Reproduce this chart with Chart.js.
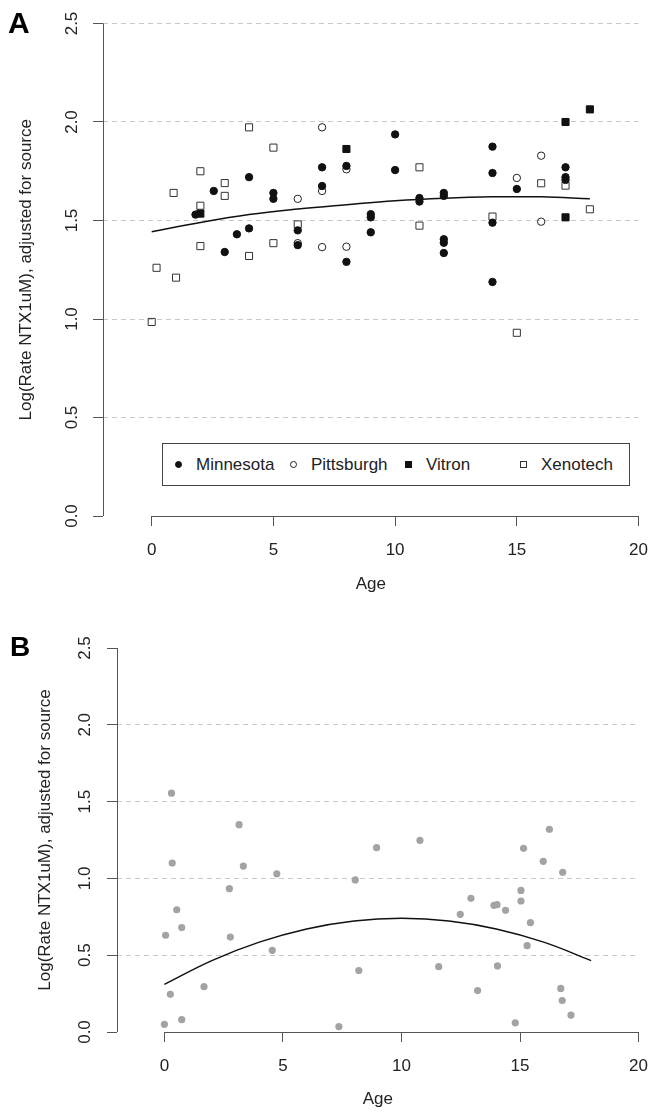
<!DOCTYPE html>
<html>
<head>
<meta charset="utf-8">
<script src="https://cdn.jsdelivr.net/npm/chart.js@4.4.1/dist/chart.umd.min.js"></script>
<style>
body{margin:0;background:#fff;font-family:"Liberation Sans",Arial,sans-serif;}
#page{position:relative;width:662px;height:1118px;overflow:hidden;}
.panel{position:absolute;left:0;width:662px;}
.tag{position:absolute;font-weight:bold;line-height:1;color:#000;}
#legendA{position:absolute;left:162px;top:443px;width:468px;height:43px;border:1px solid #444;box-sizing:border-box;background:#fff;}
.item{position:absolute;top:0;height:41px;line-height:41px;font-size:17px;color:#222;white-space:nowrap;}
.mark{position:absolute;top:17px;width:7px;height:7px;box-sizing:border-box;}
</style>
</head>
<body>
<div id="page">
  <div class="panel" style="top:0;height:610px;"><canvas id="chartA"></canvas></div>
  <div class="panel" style="top:610px;height:508px;"><canvas id="chartB"></canvas></div>
  <div class="tag" style="left:8px;top:8px;font-size:30px;">A</div>
  <div class="tag" style="left:10px;top:633px;font-size:28px;">B</div>
  <div id="legendA"></div>
</div>
<script>
// panel A, by source
var minnesotaAge  = [1.8, 2.55, 3, 3.5, 4, 4, 5, 5, 6, 6, 7, 7, 8, 8, 9, 9, 9, 10, 10, 11, 11, 12, 12, 12, 12, 12, 14, 14, 14, 14, 15, 17, 17, 17];
var minnesotaRate = [1.53, 1.65, 1.34, 1.43, 1.72, 1.46, 1.64, 1.61, 1.45, 1.375, 1.77, 1.675, 1.777, 1.29, 1.532, 1.516, 1.44, 1.937, 1.756, 1.614, 1.596, 1.64, 1.625, 1.405, 1.387, 1.335, 1.875, 1.741, 1.489, 1.188, 1.66, 1.77, 1.72, 1.706];
var pittsburghAge  = [6, 6, 7, 7, 7, 8, 8, 15, 16, 16];
var pittsburghRate = [1.61, 1.385, 1.973, 1.65, 1.365, 1.76, 1.367, 1.716, 1.829, 1.494];
var vitronAge  = [2, 8, 17, 17, 18];
var vitronRate = [1.535, 1.863, 2.0, 1.516, 2.064];
var xenotechAge  = [0, 0.2, 0.9, 1, 2, 2, 2, 3, 3, 4, 4, 5, 5, 6, 11, 11, 14, 15, 16, 17, 18];
var xenotechRate = [0.985, 1.26, 1.64, 1.21, 1.75, 1.575, 1.37, 1.69, 1.625, 1.973, 1.32, 1.87, 1.385, 1.48, 1.77, 1.474, 1.52, 0.93, 1.689, 1.677, 1.557];
var fitAgeA  = [0, 2, 4, 6, 8, 10, 12, 14, 16, 18];
var fitRateA = [1.443, 1.49, 1.53, 1.558, 1.58, 1.6, 1.613, 1.62, 1.62, 1.611];

// panel B
var ageB  = [0, 0.05, 0.25, 0.3, 0.33, 0.52, 0.73, 0.73, 1.67, 2.74, 2.78, 3.15, 3.33, 4.55, 4.74, 7.36, 8.05, 8.2, 8.95, 10.78, 11.57, 12.48, 12.93, 13.21, 13.9, 14.03, 14.05, 14.39, 14.8, 15.04, 15.04, 15.15, 15.3, 15.44, 15.98, 16.24, 16.72, 16.78, 16.8, 17.15];
var rateB = [0.05, 0.63, 0.245, 1.555, 1.1, 0.796, 0.68, 0.08, 0.295, 0.933, 0.618, 1.35, 1.08, 0.532, 1.03, 0.035, 0.99, 0.4, 1.2, 1.248, 0.425, 0.766, 0.87, 0.27, 0.825, 0.829, 0.43, 0.792, 0.06, 0.922, 0.853, 1.196, 0.562, 0.712, 1.111, 1.32, 0.284, 0.205, 1.04, 0.11];
var fitAgeB  = [0, 2, 4, 6, 8, 10, 12, 14, 16, 18];
var fitRateB = [0.31, 0.465, 0.585, 0.671, 0.723, 0.74, 0.723, 0.671, 0.585, 0.465];

var sources = ['Minnesota', 'Pittsburgh', 'Vitron', 'Xenotech'];
var xTickValues = [0, 5, 10, 15, 20];
var yTickValues = [0, 0.5, 1, 1.5, 2, 2.5];
var gridLinesA = [0.5, 1, 1.5, 2, 2.5];
var gridLinesB = [0.5, 1, 1.5, 2];

var family = '"Liberation Sans", Arial, sans-serif';
var textColor = '#222';
var axisColor = '#555';
var gridColor = '#c8c8c8';

function pairs(xs, ys) {
  return xs.map(function (x, i) { return {x: x, y: ys[i]}; });
}

// R-style axes: x axis line only over the tick range, y tick labels turned upright
var rAxes = {
  id: 'rAxes',
  afterDraw: function (chart, args, opts) {
    var ctx = chart.ctx, x = chart.scales.x, y = chart.scales.y;
    ctx.save();
    ctx.setLineDash([]);
    ctx.strokeStyle = axisColor;
    ctx.lineWidth = 1;
    ctx.beginPath();
    var yb = Math.round(y.bottom) + 0.5;
    ctx.moveTo(x.getPixelForValue(xTickValues[0]), yb);
    ctx.lineTo(x.getPixelForValue(xTickValues[xTickValues.length - 1]), yb);
    // y axis line drawn here too so it stays solid
    var xl = Math.round(y.right) + 0.5;
    ctx.moveTo(xl, y.getPixelForValue(yTickValues[0]));
    ctx.lineTo(xl, y.getPixelForValue(yTickValues[yTickValues.length - 1]));
    ctx.stroke();
    ctx.fillStyle = textColor;
    ctx.font = '17px ' + family;
    ctx.textAlign = 'center';
    ctx.textBaseline = 'middle';
    yTickValues.forEach(function (v) {
      ctx.save();
      ctx.translate(opts.labelX, y.getPixelForValue(v));
      ctx.rotate(-Math.PI / 2);
      ctx.fillText(v.toFixed(1), 0, 0);
      ctx.restore();
    });
    ctx.restore();
  }
};

function panelOptions(p) {
  return {
    responsive: true,
    maintainAspectRatio: false,
    animation: false,
    layout: {padding: {top: p.top, right: p.right, left: 0, bottom: 0}},
    plugins: {legend: {display: false}, tooltip: {enabled: false}, rAxes: {labelX: p.labelX}},
    scales: {
      x: {
        type: 'linear', min: -2, max: 20,
        afterBuildTicks: function (s) { s.ticks = xTickValues.map(function (v) { return {value: v}; }); },
        afterFit: function (s) { s.height = p.xHeight; },
        border: {display: false},
        grid: {drawOnChartArea: false, tickLength: 10, tickColor: axisColor, tickWidth: 1},
        ticks: {font: {size: 17, family: family}, color: textColor, padding: 14, maxRotation: 0},
        title: {display: true, text: 'Age', font: {size: 17, family: family}, color: textColor, padding: {top: 0, bottom: p.xTitlePad}}
      },
      y: {
        min: 0, max: 2.5,
        afterBuildTicks: function (s) { s.ticks = yTickValues.map(function (v) { return {value: v}; }); },
        afterFit: function (s) { s.width = p.yWidth; },
        border: {display: false, dash: [5, 4]},
        grid: {
          color: function (c) { return c.tick && p.grid.indexOf(c.tick.value) >= 0 ? gridColor : 'rgba(0,0,0,0)'; },
          lineWidth: 1,
          tickLength: 10, tickColor: axisColor, tickWidth: 1, tickBorderDash: []
        },
        ticks: {display: false},
        title: {display: true, text: 'Log(Rate NTX1uM), adjusted for source', font: {size: 17, family: family}, color: textColor, padding: {top: p.yTitlePad, bottom: 0}}
      }
    }
  };
}

var markStyles = [
  {pointStyle: 'circle', radius: 3.7, bg: '#111', border: '#111'},
  {pointStyle: 'circle', radius: 3.7, bg: 'rgba(0,0,0,0)', border: '#222'},
  {pointStyle: 'rect', radius: 5, bg: '#111', border: '#111'},
  {pointStyle: 'rect', radius: 5, bg: 'rgba(0,0,0,0)', border: '#333'}
];
var seriesA = [pairs(minnesotaAge, minnesotaRate), pairs(pittsburghAge, pittsburghRate), pairs(vitronAge, vitronRate), pairs(xenotechAge, xenotechRate)];

var datasetsA = sources.map(function (name, i) {
  var m = markStyles[i];
  return {
    label: name, data: seriesA[i], pointStyle: m.pointStyle, pointRadius: m.radius,
    backgroundColor: m.bg, borderColor: m.border, borderWidth: 1
  };
});
datasetsA.push({
  type: 'line', label: 'fit', data: pairs(fitAgeA, fitRateA),
  borderColor: '#111', borderWidth: 1.5, pointRadius: 0, tension: 0.4, fill: false
});

new Chart(document.getElementById('chartA'), {
  type: 'scatter',
  data: {datasets: datasetsA},
  options: panelOptions({top: 23.5, right: 22, yWidth: 103, xHeight: 94, labelX: 72, grid: gridLinesA, xTitlePad: 15, yTitlePad: 16}),
  plugins: [rAxes]
});

new Chart(document.getElementById('chartB'), {
  type: 'scatter',
  data: {datasets: [
    {label: 'all', data: pairs(ageB, rateB), pointStyle: 'circle', pointRadius: 3.6, backgroundColor: '#a3a3a3', borderColor: '#a3a3a3', borderWidth: 0},
    {type: 'line', label: 'fit', data: pairs(fitAgeB, fitRateB), borderColor: '#111', borderWidth: 1.5, pointRadius: 0, tension: 0.4, fill: false}
  ]},
  options: panelOptions({top: 38, right: 13, yWidth: 117, xHeight: 86, labelX: 85, grid: gridLinesB, xTitlePad: 8, yTitlePad: 35}),
  plugins: [rAxes]
});

// legend box inside panel A
var legend = document.getElementById('legendA');
sources.forEach(function (name, i) {
  var m = markStyles[i];
  var item = document.createElement('div');
  item.className = 'item';
  item.style.left = (12 + i * 115) + 'px';
  var mark = document.createElement('span');
  mark.className = 'mark';
  mark.style.left = '0px';
  mark.style.background = m.bg;
  mark.style.border = '1px solid ' + m.border;
  if (m.pointStyle === 'circle') mark.style.borderRadius = '50%';
  var label = document.createElement('span');
  label.style.marginLeft = '21px';
  label.textContent = name;
  item.appendChild(mark);
  item.appendChild(label);
  legend.appendChild(item);
});
</script>
</body>
</html>
